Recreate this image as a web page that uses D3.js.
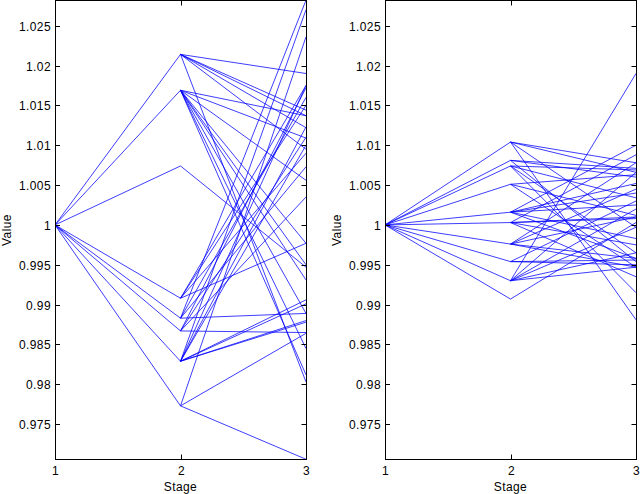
<!DOCTYPE html>
<html>
<head>
<meta charset="utf-8">
<script src="https://d3js.org/d3.v7.min.js"></script>
<style>
  body { margin: 0; background: #fff; }
  svg text { font-family: "Liberation Sans", Arial, sans-serif; font-size: 12px; letter-spacing: 0.4px; fill: #000; }
  .frame { fill: none; stroke: #000; stroke-width: 1; }
  .tick { stroke: #000; stroke-width: 1; }
  .branch { fill: none; stroke: #0000ff; stroke-width: 0.9; stroke-opacity: 0.85; }
</style>
</head>
<body>
<div id="chart"></div>
<script>
var stages = [1, 2, 3];
var yTicks = [0.975, 0.98, 0.985, 0.99, 0.995, 1, 1.005, 1.01, 1.015, 1.02, 1.025];
var yTickLabels = ["0.975", "0.98", "0.985", "0.99", "0.995", "1", "1.005", "1.01", "1.015", "1.02", "1.025"];
var rootValue = 1;

// left panel: stage 2 nodes and their stage 3 children
var leftStage2 = [1.0214, 1.0169, 1.0074, 0.9908, 0.9883, 0.9867, 0.9829, 0.9773];
var leftStage3 = [
    [1.0190, 1.0144, 1.0137, 1.0122, 1.0095, 0.9803],
    [1.0137, 1.0109, 1.0056, 0.9977, 0.9950, 0.9931, 0.9889, 0.9845, 0.9812],
    [0.9947],
    [1.0175, 1.0150, 1.0090, 0.9977],
    [1.0282, 1.0160, 1.0073, 0.9889],
    [1.0172, 1.0110, 1.0035, 0.9865],
    [1.0270, 1.0175, 1.0123, 1.0100, 0.9906, 0.9901, 0.9880, 0.9878],
    [1.0236, 0.9864, 0.9706]
];

// right panel
var rightStage2 = [1.0104, 1.0081, 1.0074, 1.0051, 1.0016, 1.0003, 0.9976, 0.9954, 0.9930, 0.9907];
var rightStage3 = [
    [1.0078, 1.0066, 0.9997, 0.9881],
    [1.0071, 1.0060, 0.9954],
    [1.0069, 1.0034, 0.9965, 0.9915],
    [1.0063, 1.0012, 0.9947],
    [1.0100, 1.0052, 1.0040, 1.0025, 0.9983, 0.9958],
    [1.0088, 1.0010, 1.0008, 0.9975, 0.9935],
    [1.0078, 1.0045, 1.0010, 0.9958, 0.9947],
    [1.0030, 0.9956, 0.9950],
    [1.0190, 1.0066, 1.0020, 0.9997, 0.9965, 0.9947],
    [1.0003]
];

var width = 640, height = 494;
var plotTop = 0.5, plotBottom = 459.5;
var yDomain = [0.97057, 1.02816];

var svg = d3.select("#chart").append("svg")
    .attr("width", width)
    .attr("height", height);

drawPanel(55, 306, leftStage2, leftStage3, "clipL");
drawPanel(385, 636, rightStage2, rightStage3, "clipR");

function drawPanel(x0, x1, s2, s3, clipId) {
    var x = d3.scaleLinear().domain([1, 3]).range([x0, x1]);
    var y = d3.scaleLinear().domain(yDomain).range([plotBottom, plotTop]);
    var line = d3.line().x(function (d) { return x(d[0]); }).y(function (d) { return y(d[1]); });

    svg.append("clipPath").attr("id", clipId)
        .append("rect")
        .attr("x", x0).attr("y", plotTop)
        .attr("width", x1 - x0).attr("height", plotBottom - plotTop);

    var g = svg.append("g").attr("clip-path", "url(#" + clipId + ")");

    s2.forEach(function (v, i) {
        g.append("path").attr("class", "branch")
            .attr("d", line([[1, rootValue], [2, v]]));
        s3[i].forEach(function (c) {
            g.append("path").attr("class", "branch")
                .attr("d", line([[2, v], [3, c]]));
        });
    });

    // frame
    svg.append("rect").attr("class", "frame")
        .attr("x", x0 + 0.5).attr("y", plotTop)
        .attr("width", x1 - x0).attr("height", plotBottom - plotTop);

    // y ticks, inward on both sides
    yTicks.forEach(function (t, i) {
        var yy = Math.round(y(t)) + 0.5;
        svg.append("line").attr("class", "tick")
            .attr("x1", x0).attr("x2", x0 + 5).attr("y1", yy).attr("y2", yy);
        svg.append("line").attr("class", "tick")
            .attr("x1", x1 + 0.5).attr("x2", x1 - 4.5).attr("y1", yy).attr("y2", yy);
        svg.append("text")
            .attr("x", x0 - 4).attr("y", yy + 4)
            .style("text-anchor", "end")
            .text(yTickLabels[i]);
    });

    // x ticks, inward top and bottom
    stages.forEach(function (s) {
        var xx = Math.round(x(s)) + 0.5;
        svg.append("line").attr("class", "tick")
            .attr("x1", xx).attr("x2", xx).attr("y1", plotBottom).attr("y2", plotBottom - 5);
        svg.append("line").attr("class", "tick")
            .attr("x1", xx).attr("x2", xx).attr("y1", plotTop).attr("y2", plotTop + 5);
        svg.append("text")
            .attr("x", xx).attr("y", 475)
            .style("text-anchor", "middle")
            .text(s);
    });

    svg.append("text")
        .attr("x", x(2)).attr("y", 491)
        .style("text-anchor", "middle")
        .text("Stage");

    svg.append("text")
        .attr("transform", "translate(" + (x0 - 44) + "," + ((plotTop + plotBottom) / 2) + ") rotate(-90)")
        .style("text-anchor", "middle")
        .text("Value");
}
</script>
</body>
</html>
